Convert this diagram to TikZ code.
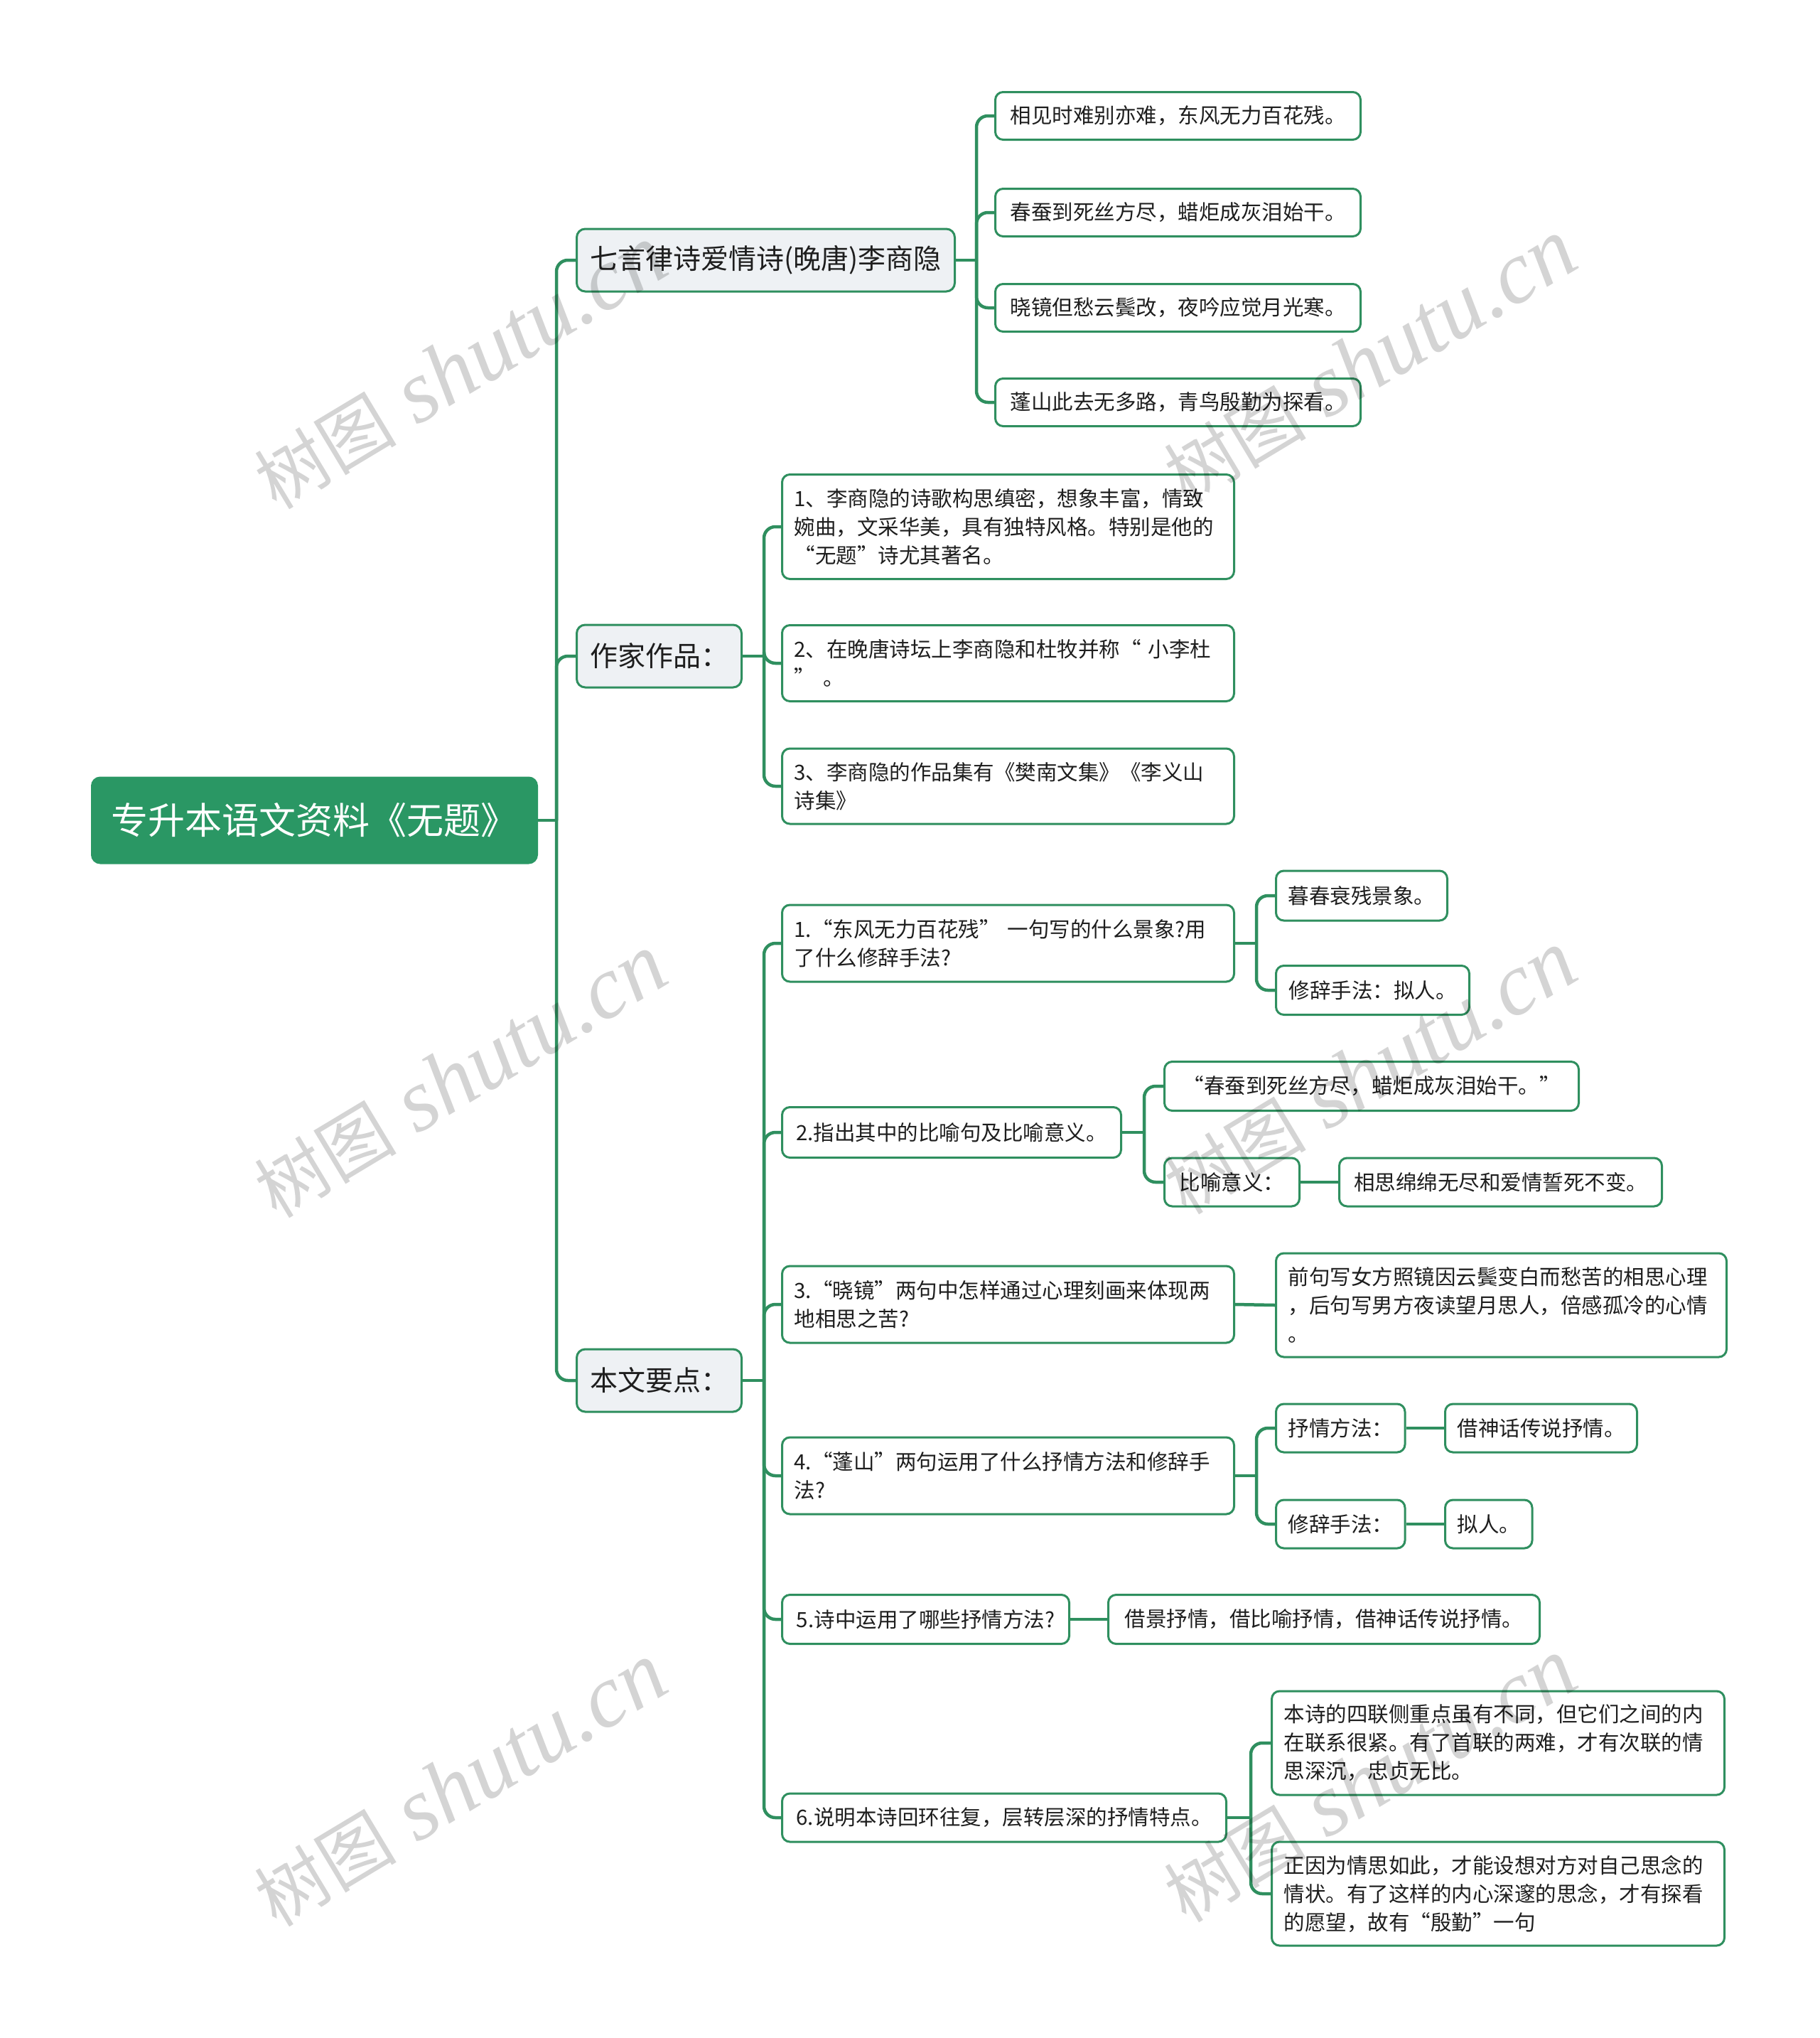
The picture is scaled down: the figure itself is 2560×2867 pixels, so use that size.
\documentclass[tikz,border=0pt]{standalone}
\usepackage{fontspec}
\setmainfont{Noto Sans CJK SC}
\newfontfamily\wmlatin{Liberation Serif}
\newfontfamily\wmcjk{Noto Sans CJK SC}
\usetikzlibrary{backgrounds}
\definecolor{mgreen}{HTML}{2A9764}
\definecolor{lgreen}{HTML}{2F8F5F}
\definecolor{lgray}{HTML}{EEF1F4}
\definecolor{txt}{HTML}{1E1E1E}
\tikzset{
  conn/.style={draw=lgreen, line width=4.5pt, rounded corners=16pt},
  rootbox/.style={fill=mgreen, draw=mgreen, line width=2pt, rounded corners=12pt, text=white,
    font=\fontsize{52}{60}\selectfont, anchor=west, inner sep=0pt},
  onebox/.style={fill=lgray, draw=lgreen, line width=3pt, rounded corners=12pt, text=txt,
    font=\fontsize{39}{48}\selectfont, anchor=west, inner sep=0pt},
  leafbox/.style={fill=white, draw=lgreen, line width=3pt, rounded corners=11pt, text=txt,
    font=\fontsize{29.5}{40}\selectfont, anchor=west, inner xsep=17pt, inner ysep=0pt, align=left},
  sz/.style 2 args={minimum width=#1pt, minimum height=#2pt},
  wm/.style={rotate=31, text=black, text opacity=0.17, inner sep=0pt}
}
\newcommand\fork[3]{%
  \draw[conn] (#1.east) -- ++(#2,0) coordinate (#1j);
  \foreach \cc in {#3} {\draw[conn] (#1j) |- (\cc.west);}}
\begin{document}
\begin{tikzpicture}[x=1pt,y=-1pt]
\useasboundingbox (0,0) rectangle (2560,2867);
% root
\node[rootbox, sz={627}{121}] (root) at (128,1154) {专升本语文资料《无题》};
% level 1
\node[onebox, sz={532}{88}] (la) at (810,366) {七言律诗爱情诗(晚唐)李商隐};
\node[onebox, sz={232}{88}] (lb) at (810,923) {作家作品：};
\node[onebox, sz={232}{88}] (lc) at (810,1942) {本文要点：};
% poem lines
\node[leafbox, sz={514}{67}] (p1) at (1399,163) {相见时难别亦难，东风无力百花残。};
\node[leafbox, sz={514}{67}] (p2) at (1399,299) {春蚕到死丝方尽，蜡炬成灰泪始干。};
\node[leafbox, sz={514}{67}] (p3) at (1399,433) {晓镜但愁云鬓改，夜吟应觉月光寒。};
\node[leafbox, sz={514}{67}] (p4) at (1399,566) {蓬山此去无多路，青鸟殷勤为探看。};
% works
\node[leafbox, sz={636}{147}, text width=602pt] (w1) at (1099,741) {1、李商隐的诗歌构思缜密，想象丰富，情致\\婉曲，文采华美，具有独特风格。特别是他的\\“无题”诗尤其著名。};
\node[leafbox, sz={636}{107}, text width=602pt] (w2) at (1099,933) {2、在晚唐诗坛上李商隐和杜牧并称“ 小李杜\\”\hspace{12pt}。};
\node[leafbox, sz={636}{106}, text width=602pt] (w3) at (1099,1106) {3、李商隐的作品集有《樊南文集》《李义山\\诗集》};
% questions
\node[leafbox, sz={636}{108}, text width=602pt] (q1) at (1099,1327) {1.“东风无力百花残”\hspace{10pt}一句写的什么景象?用\\了什么修辞手法?};
\node[leafbox, sz={477}{71}] (q2) at (1099,1593) {2.指出其中的比喻句及比喻意义。};
\node[leafbox, sz={636}{108}, text width=602pt] (q3) at (1099,1835) {3.“晓镜”两句中怎样通过心理刻画来体现两\\地相思之苦?};
\node[leafbox, sz={636}{108}, text width=602pt] (q4) at (1099,2076) {4.“蓬山”两句运用了什么抒情方法和修辞手\\法?};
\node[leafbox, sz={404}{69}] (q5) at (1099,2278) {5.诗中运用了哪些抒情方法?};
\node[leafbox, sz={625}{68}] (q6) at (1099,2557) {6.说明本诗回环往复，层转层深的抒情特点。};
% level 3
\node[leafbox, sz={241}{70}] (q1a) at (1794,1260) {暮春衰残景象。};
\node[leafbox, sz={272}{69}] (q1b) at (1794,1393) {修辞手法：拟人。};
\node[leafbox, sz={583}{69}] (q2a) at (1637,1528) {“春蚕到死丝方尽，蜡炬成灰泪始干。”};
\node[leafbox, sz={190}{68}] (q2b) at (1637,1663) {比喻意义：};
\node[leafbox, sz={454}{68}] (q2c) at (1883,1663) {相思绵绵无尽和爱情誓死不变。};
\node[leafbox, sz={634}{146}, text width=600pt] (q3a) at (1794,1836) {前句写女方照镜因云鬓变白而愁苦的相思心理\\，后句写男方夜读望月思人，倍感孤冷的心情\\。};
\node[leafbox, sz={181}{68}] (q4a) at (1794,2009) {抒情方法：};
\node[leafbox, sz={270}{68}] (q4b) at (2032,2009) {借神话传说抒情。};
\node[leafbox, sz={181}{68}] (q4c) at (1794,2144) {修辞手法：};
\node[leafbox, sz={120}{68}] (q4d) at (2032,2144) {拟人。};
\node[leafbox, sz={607}{69}] (q5a) at (1558,2278) {借景抒情，借比喻抒情，借神话传说抒情。};
\node[leafbox, sz={637}{146}, text width=603pt] (q6a) at (1788,2452) {本诗的四联侧重点虽有不同，但它们之间的内\\在联系很紧。有了首联的两难，才有次联的情\\思深沉，忠贞无比。};
\node[leafbox, sz={637}{146}, text width=603pt] (q6b) at (1788,2664) {正因为情思如此，才能设想对方对自己思念的\\情状。有了这样的内心深邃的思念，才有探看\\的愿望，故有“殷勤”一句};
% connectors
\begin{scope}[on background layer]
\fork{root}{26}{la,lb,lc}
\fork{la}{29}{p1,p2,p3,p4}
\fork{lb}{30}{w1,w2,w3}
\fork{lc}{30}{q1,q2,q3,q4,q5,q6}
\fork{q1}{30}{q1a,q1b}
\fork{q2}{31}{q2a,q2b}
\fork{q4}{30}{q4a,q4c}
\fork{q6}{33}{q6a,q6b}
\draw[conn] (q2b.east) -- (q2c.west);
\draw[conn] (q3.east) -- (q3a.west);
\draw[conn] (q4a.east) -- (q4b.west);
\draw[conn] (q4c.east) -- (q4d.west);
\draw[conn] (q5.east) -- (q5a.west);
\end{scope}
% watermarks
\foreach \wx/\wy [count=\i] in {648/517, 1928/508, 648/1514, 1928/1509, 648/2511, 1928/2505} {
  \node[wm] (wm\i) at (\wx,\wy) {{\wmcjk\fontsize{100}{100}\selectfont 树图\hspace{30pt}}{\wmlatin\itshape\fontsize{125}{125}\selectfont shutu.cn}};
}
\end{tikzpicture}
\end{document}
